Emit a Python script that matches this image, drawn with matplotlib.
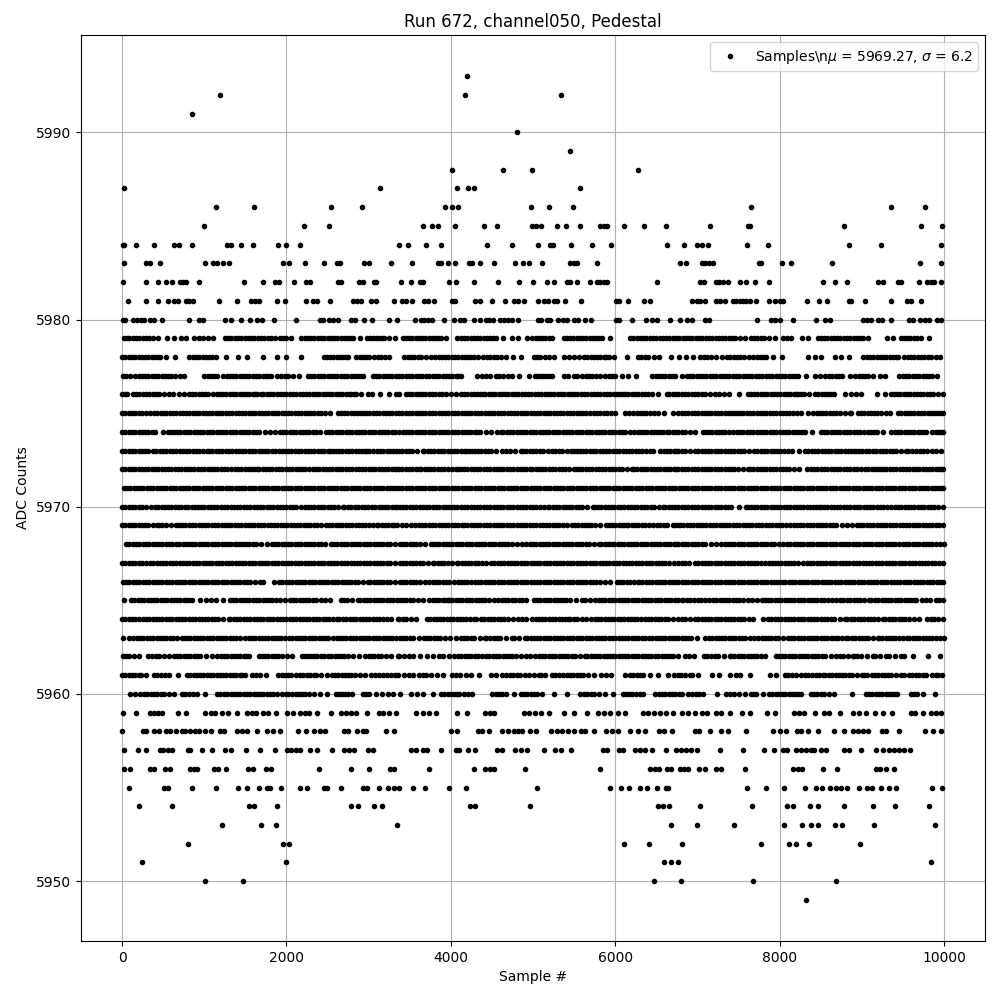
import matplotlib
matplotlib.use("Agg")
import matplotlib.pyplot as plt

level_5993 = [4200]
level_5992 = [1196, 4177, 5341]
level_5991 = [845]
level_5990 = [4808]
level_5989 = [5450]
level_5988 = [4008, 4638, 4990, 6275]
level_5987 = [25, 3135, 4080, 4214, 4286, 5572]
level_5986 = [1147, 1608, 2541, 2917, 3923, 4020, 4093, 4977, 5196, 5487, 7656, 9353, 9765]
level_5985 = [1002, 2214, 2517, 3656, 3765, 3838, 4048, 4408, 4565, 4990, 5030, 5100, 5293, 5402, 5572, 5818, 5859, 5899, 6105, 6347, 6614, 7147, 7616, 7636, 8784, 9717, 9971]
level_5984 = [10, 28, 166, 384, 634, 687, 856, 1280, 1321, 1450, 1596, 1899, 2000, 2165, 3365, 3474, 3693, 3886, 4444, 4747, 5063, 5212, 5240, 5463, 5717, 5947, 6626, 6832, 6990, 7050, 7127, 7608, 7862, 8844, 9232, 9959]
level_5983 = [20, 287, 335, 457, 1014, 1111, 1151, 1232, 1305, 1959, 2032, 2226, 2456, 2614, 2654, 2941, 3002, 3268, 3523, 3838, 3886, 3971, 4048, 4222, 4254, 4359, 4529, 4783, 4880, 4953, 5111, 5455, 5495, 5535, 5778, 6784, 6856, 7050, 7090, 7135, 7192, 7749, 7778, 8032, 8141, 8638, 9705, 9959]
level_5982 = [8, 287, 432, 529, 606, 699, 739, 780, 941, 1487, 1717, 1858, 1911, 2093, 2242, 2283, 2626, 2666, 2881, 2929, 3070, 3090, 3390, 3511, 3628, 3664, 3983, 4068, 4278, 4577, 4832, 5002, 5172, 5257, 5414, 5455, 5539, 5693, 5778, 5818, 5859, 5899, 6505, 7034, 7079, 7220, 7264, 7313, 7366, 7523, 7588, 7697, 7875, 8529, 8674, 8820, 9192, 9256, 9442, 9474, 9692, 9789, 9838, 9878, 9959]
level_5981 = [69, 287, 432, 553, 626, 675, 772, 812, 861, 1184, 1402, 1572, 1616, 1668, 1887, 1984, 2238, 2323, 2371, 2529, 2812, 2860, 2909, 3026, 3090, 3305, 3402, 3454, 3523, 3668, 3725, 3798, 4012, 4048, 4299, 4359, 4505, 4662, 4771, 4820, 4888, 5063, 5135, 5184, 5253, 5293, 5390, 5584, 6008, 6048, 6154, 6356, 6424, 6929, 6990, 7030, 7087, 7220, 7272, 7341, 7434, 7475, 7515, 7556, 7596, 7636, 7717, 7875, 7947, 8000, 8040, 8335, 8481, 8578, 8848, 8868, 9038, 9353, 9555, 9595, 9717]
level_5980 = [5, 30, 133, 182, 234, 271, 335, 392, 481, 812, 941, 982, 1256, 1321, 1450, 1559, 1644, 1705, 1850, 2117, 2412, 2444, 2517, 2565, 2626, 2788, 2828, 2941, 3038, 3244, 3341, 3559, 3632, 3676, 3717, 3769, 3911, 4044, 4113, 4161, 4286, 4359, 4432, 4468, 4517, 4602, 4642, 4699, 4747, 4812, 5062, 5099, 5172, 5204, 5305, 5366, 5414, 5495, 5547, 5628, 5709, 6008, 6048, 6202, 6380, 6444, 6505, 6663, 6784, 6869, 6929, 7091, 7143, 7729, 7890, 7947, 8000, 8165, 8444, 8553, 8618, 9010, 9062, 9111, 9192, 9248, 9361, 9579, 9628, 9705, 9765, 9818, 9911, 9959]
level_5979 = [20, 90, 170, 250, 330, 432, 545, 626, 715, 780, 869, 941, 990, 1050, 1103, 1252, 1330, 1410, 1490, 1570, 1650, 1730, 1810, 1919, 1959, 2000, 2056, 2182, 2260, 2340, 2420, 2500, 2580, 2660, 2740, 2808, 2893, 2977, 3050, 3130, 3192, 3252, 3317, 3414, 3490, 3570, 3650, 3730, 3810, 3878, 3947, 4080, 4160, 4240, 4320, 4400, 4480, 4545, 4634, 4747, 4820, 4921, 4990, 5070, 5150, 5232, 5374, 5450, 5530, 5610, 5690, 5770, 5838, 5931, 6182, 6260, 6340, 6420, 6500, 6580, 6660, 6740, 6820, 6900, 6980, 7060, 7140, 7220, 7300, 7380, 7460, 7576, 7656, 7730, 7810, 7939, 8040, 8141, 8271, 8343, 8464, 8540, 8620, 8700, 8780, 8860, 8940, 9010, 9070, 9305, 9377, 9474, 9550, 9630, 9717, 9814]
level_5978 = [0, 80, 160, 240, 320, 400, 465, 537, 638, 820, 900, 980, 1060, 1143, 1265, 1414, 1523, 1709, 1879, 1992, 2174, 2452, 2530, 2610, 2690, 2747, 2848, 2930, 3002, 3070, 3150, 3252, 3434, 3515, 3556, 3640, 3758, 3810, 3890, 3970, 4050, 4130, 4210, 4283, 4335, 4396, 4480, 4560, 4666, 4760, 4856, 5010, 5090, 5192, 5256, 5382, 5503, 5563, 5616, 5700, 5780, 5860, 5919, 5984, 6141, 6283, 6315, 6400, 6533, 6674, 6772, 6861, 6942, 7034, 7120, 7228, 7297, 7358, 7440, 7520, 7632, 7681, 7760, 7830, 7923, 8032, 8347, 8436, 8509, 8671, 8751, 8844, 9014, 9100, 9180, 9260, 9340, 9418, 9446, 9519, 9600, 9680, 9760, 9840, 9955]
level_5977 = [12, 101, 162, 240, 320, 400, 480, 560, 640, 755, 998, 1080, 1160, 1224, 1273, 1350, 1430, 1510, 1590, 1670, 1750, 1806, 1879, 1980, 2020, 2149, 2262, 2340, 2420, 2500, 2580, 2660, 2740, 2820, 2889, 2929, 3050, 3130, 3210, 3290, 3373, 3450, 3530, 3610, 3697, 3737, 3820, 3900, 3980, 4060, 4121, 4323, 4384, 4473, 4545, 4630, 4747, 4828, 4949, 5022, 5050, 5120, 5192, 5232, 5374, 5495, 5535, 5596, 5680, 5760, 5870, 5919, 6000, 6081, 6161, 6250, 6452, 6493, 6570, 6650, 6727, 6812, 6873, 6950, 7030, 7110, 7190, 7270, 7350, 7430, 7510, 7590, 7670, 7750, 7830, 7910, 7990, 8070, 8150, 8226, 8315, 8436, 8549, 8598, 8680, 8760, 8860, 8921, 9000, 9075, 9135, 9216, 9277, 9458, 9540, 9620, 9700, 9780, 9850, 9915]
level_5976 = [0, 60, 133, 210, 290, 370, 450, 565, 618, 755, 808, 890, 970, 1050, 1111, 1190, 1270, 1350, 1430, 1510, 1590, 1636, 1685, 1760, 1840, 1920, 2000, 2080, 2160, 2240, 2320, 2400, 2480, 2560, 2640, 2727, 2790, 2848, 2909, 2990, 3042, 3135, 3252, 3333, 3374, 3455, 3495, 3570, 3650, 3730, 3810, 3890, 4000, 4061, 4121, 4200, 4280, 4360, 4416, 4465, 4540, 4620, 4700, 4780, 4860, 4940, 5020, 5100, 5180, 5260, 5340, 5420, 5500, 5580, 5660, 5740, 5820, 5900, 5980, 6060, 6121, 6161, 6240, 6320, 6396, 6444, 6517, 6626, 6700, 6767, 6850, 6930, 7010, 7090, 7216, 7257, 7386, 7503, 7612, 7690, 7770, 7850, 7930, 8010, 8090, 8170, 8218, 8259, 8356, 8428, 8510, 8590, 8663, 8800, 8873, 8986, 9180, 9277, 9358, 9390, 9470, 9550, 9630, 9710, 9790, 9870, 9984]
level_5975 = [0, 80, 160, 240, 343, 384, 477, 505, 580, 660, 740, 820, 900, 980, 1060, 1140, 1220, 1300, 1380, 1460, 1540, 1620, 1700, 1780, 1860, 1940, 2020, 2100, 2180, 2260, 2340, 2420, 2525, 2626, 2700, 2780, 2860, 2929, 2969, 3050, 3130, 3210, 3290, 3373, 3450, 3530, 3610, 3690, 3770, 3850, 3930, 4010, 4090, 4170, 4250, 4330, 4410, 4490, 4570, 4650, 4730, 4810, 4890, 4970, 5050, 5130, 5210, 5290, 5370, 5450, 5530, 5610, 5697, 5737, 5820, 5900, 6000, 6113, 6222, 6262, 6340, 6420, 6525, 6598, 6707, 6767, 6850, 6930, 7010, 7090, 7170, 7250, 7330, 7410, 7479, 7519, 7600, 7680, 7760, 7840, 7920, 8000, 8080, 8160, 8266, 8347, 8408, 8490, 8570, 8650, 8730, 8853, 8873, 8954, 8986, 9070, 9150, 9230, 9349, 9438, 9520, 9600, 9680, 9760, 9840, 9920, 9984]
level_5974 = [0, 80, 160, 240, 320, 404, 493, 553, 630, 710, 790, 870, 950, 1030, 1110, 1190, 1270, 1350, 1430, 1510, 1590, 1668, 1737, 1798, 1858, 1919, 2000, 2080, 2160, 2240, 2320, 2412, 2485, 2560, 2640, 2720, 2800, 2880, 2960, 3040, 3120, 3200, 3280, 3373, 3414, 3490, 3570, 3650, 3730, 3810, 3890, 3970, 4050, 4130, 4210, 4290, 4351, 4424, 4566, 4606, 4680, 4760, 4840, 4920, 5000, 5080, 5160, 5240, 5320, 5400, 5480, 5560, 5640, 5720, 5800, 5880, 5960, 6040, 6120, 6234, 6274, 6350, 6430, 6510, 6586, 6626, 6700, 6767, 6850, 6974, 7063, 7140, 7220, 7300, 7380, 7479, 7519, 7600, 7680, 7760, 7840, 7920, 8000, 8080, 8160, 8240, 8307, 8396, 8501, 8580, 8660, 8740, 8820, 8900, 8980, 9075, 9107, 9188, 9256, 9358, 9440, 9520, 9600, 9680, 9741, 9782, 9860, 9940, 9984]
level_5973 = [0, 80, 160, 240, 320, 416, 465, 540, 620, 700, 780, 860, 940, 1030, 1063, 1140, 1220, 1300, 1380, 1460, 1540, 1620, 1700, 1780, 1860, 1951, 1980, 2060, 2140, 2220, 2300, 2380, 2460, 2533, 2565, 2640, 2720, 2800, 2880, 2960, 3010, 3058, 3140, 3220, 3300, 3373, 3450, 3530, 3656, 3677, 3760, 3840, 3920, 4000, 4080, 4160, 4222, 4254, 4330, 4410, 4490, 4618, 4667, 4715, 4848, 4877, 4960, 5040, 5120, 5232, 5272, 5350, 5467, 5495, 5570, 5650, 5730, 5810, 5890, 5970, 6050, 6130, 6210, 6290, 6370, 6465, 6545, 6630, 6710, 6767, 6850, 6974, 7006, 7090, 7170, 7250, 7330, 7410, 7490, 7570, 7693, 7725, 7774, 7850, 7930, 8010, 8097, 8149, 8234, 8307, 8390, 8470, 8550, 8630, 8710, 8790, 8870, 8933, 8962, 9050, 9135, 9176, 9260, 9340, 9420, 9539, 9560, 9660, 9713, 9790, 9903, 9963]
level_5972 = [0, 80, 160, 240, 320, 400, 480, 560, 640, 720, 800, 880, 960, 1040, 1120, 1200, 1280, 1374, 1414, 1490, 1570, 1636, 1669, 1750, 1830, 1910, 1990, 2070, 2150, 2230, 2323, 2363, 2440, 2520, 2600, 2680, 2760, 2840, 2920, 3000, 3080, 3160, 3240, 3320, 3373, 3450, 3530, 3608, 3636, 3720, 3800, 3880, 3960, 4061, 4081, 4160, 4240, 4320, 4400, 4480, 4560, 4640, 4720, 4800, 4880, 4962, 4990, 5070, 5150, 5230, 5310, 5390, 5495, 5523, 5600, 5680, 5760, 5840, 5920, 6000, 6080, 6202, 6234, 6310, 6390, 6470, 6550, 6630, 6710, 6767, 6850, 6930, 7010, 7090, 7170, 7250, 7330, 7410, 7490, 7612, 7640, 7720, 7800, 7880, 7960, 8040, 8120, 8234, 8339, 8420, 8500, 8580, 8660, 8740, 8820, 8900, 8994, 9034, 9120, 9200, 9269, 9297, 9380, 9460, 9540, 9620, 9700, 9780, 9860, 9940, 9984]
level_5971 = [20, 100, 180, 260, 340, 420, 500, 580, 660, 740, 820, 900, 980, 1060, 1140, 1220, 1300, 1380, 1460, 1540, 1620, 1700, 1780, 1860, 1940, 2020, 2100, 2180, 2260, 2340, 2420, 2500, 2580, 2660, 2740, 2820, 2900, 2980, 3060, 3140, 3220, 3300, 3373, 3450, 3530, 3610, 3690, 3770, 3850, 3930, 4010, 4090, 4170, 4250, 4330, 4410, 4490, 4570, 4650, 4730, 4810, 4890, 4970, 5050, 5130, 5210, 5290, 5370, 5450, 5530, 5610, 5690, 5770, 5850, 5930, 6010, 6090, 6170, 6250, 6330, 6410, 6490, 6570, 6650, 6730, 6810, 6890, 6970, 7050, 7130, 7210, 7290, 7370, 7450, 7530, 7610, 7690, 7770, 7850, 7930, 8010, 8090, 8170, 8250, 8330, 8410, 8490, 8570, 8650, 8730, 8810, 8890, 8970, 9050, 9130, 9210, 9290, 9370, 9450, 9530, 9610, 9690, 9770, 9850, 9930, 9984]
level_5970 = [0, 80, 160, 240, 352, 405, 480, 560, 640, 720, 800, 891, 919, 1000, 1080, 1160, 1240, 1320, 1400, 1480, 1560, 1640, 1720, 1800, 1880, 1960, 2040, 2120, 2228, 2256, 2340, 2420, 2500, 2580, 2685, 2705, 2790, 2870, 2957, 2997, 3080, 3160, 3240, 3320, 3382, 3460, 3540, 3620, 3700, 3780, 3860, 3940, 4012, 4040, 4120, 4200, 4280, 4360, 4440, 4520, 4600, 4680, 4760, 4840, 4920, 5000, 5080, 5180, 5200, 5280, 5360, 5440, 5520, 5600, 5725, 5750, 5830, 5910, 5990, 6070, 6150, 6230, 6310, 6390, 6470, 6586, 6606, 6690, 6767, 6850, 6930, 7010, 7090, 7170, 7250, 7330, 7410, 7591, 7612, 7690, 7770, 7850, 7930, 8010, 8090, 8170, 8250, 8330, 8410, 8477, 8501, 8580, 8660, 8740, 8820, 8900, 8980, 9067, 9095, 9180, 9260, 9358, 9398, 9480, 9560, 9640, 9720, 9800, 9880, 9984]
level_5969 = [0, 80, 160, 240, 320, 425, 445, 530, 656, 689, 770, 850, 930, 1010, 1090, 1170, 1250, 1330, 1410, 1490, 1570, 1650, 1730, 1810, 1890, 1970, 2050, 2130, 2210, 2290, 2370, 2482, 2523, 2600, 2680, 2760, 2840, 2920, 3000, 3098, 3118, 3200, 3280, 3341, 3406, 3515, 3568, 3650, 3730, 3810, 3890, 3970, 4050, 4130, 4202, 4242, 4320, 4400, 4480, 4560, 4640, 4720, 4800, 4880, 4960, 5040, 5120, 5200, 5280, 5360, 5475, 5507, 5590, 5670, 5750, 5887, 5919, 6000, 6080, 6141, 6161, 6240, 6320, 6412, 6465, 6550, 6626, 6707, 6767, 6792, 6870, 6950, 7030, 7110, 7190, 7270, 7350, 7430, 7510, 7590, 7670, 7750, 7830, 7910, 7990, 8072, 8125, 8210, 8290, 8370, 8450, 8530, 8610, 8690, 8820, 8881, 8942, 9020, 9100, 9180, 9260, 9340, 9420, 9500, 9580, 9660, 9740, 9820, 9900, 9984]
level_5968 = [52, 130, 210, 290, 370, 450, 530, 610, 690, 781, 810, 890, 970, 1050, 1130, 1210, 1290, 1370, 1430, 1470, 1550, 1630, 1762, 1823, 1900, 1980, 2060, 2140, 2220, 2300, 2380, 2470, 2539, 2620, 2700, 2780, 2860, 2940, 3020, 3100, 3180, 3260, 3382, 3460, 3540, 3620, 3758, 3778, 3860, 3940, 4020, 4100, 4180, 4260, 4340, 4420, 4500, 4580, 4660, 4740, 4869, 4909, 4958, 5040, 5120, 5200, 5280, 5360, 5440, 5520, 5600, 5680, 5798, 5830, 5910, 5990, 6070, 6150, 6230, 6310, 6390, 6470, 6550, 6630, 6710, 6767, 6850, 6930, 7010, 7090, 7224, 7289, 7370, 7450, 7530, 7610, 7690, 7770, 7850, 7930, 8044, 8085, 8170, 8250, 8330, 8410, 8490, 8570, 8650, 8730, 8810, 8890, 8970, 9050, 9130, 9210, 9290, 9370, 9458, 9499, 9580, 9660, 9740, 9820, 9900, 9999]
level_5967 = [0, 80, 160, 240, 336, 376, 460, 540, 620, 700, 780, 860, 940, 1020, 1100, 1180, 1260, 1340, 1420, 1500, 1580, 1660, 1740, 1820, 1900, 1980, 2060, 2140, 2220, 2300, 2380, 2460, 2540, 2620, 2700, 2780, 2860, 2940, 3020, 3100, 3180, 3260, 3382, 3460, 3540, 3624, 3657, 3778, 3798, 3880, 3960, 4069, 4093, 4170, 4250, 4330, 4432, 4489, 4570, 4650, 4730, 4810, 4890, 4970, 5050, 5130, 5210, 5290, 5370, 5450, 5530, 5610, 5690, 5770, 5850, 5930, 6010, 6090, 6170, 6250, 6330, 6410, 6490, 6570, 6650, 6767, 6853, 6893, 6966, 7050, 7130, 7210, 7290, 7370, 7450, 7530, 7610, 7690, 7770, 7871, 7903, 7980, 8060, 8140, 8220, 8339, 8368, 8450, 8530, 8610, 8690, 8770, 8850, 8930, 9010, 9090, 9170, 9250, 9330, 9410, 9490, 9570, 9650, 9730, 9810, 9890, 9984]
level_5966 = [10, 90, 170, 250, 330, 410, 490, 570, 650, 730, 810, 890, 970, 1050, 1130, 1215, 1235, 1320, 1400, 1480, 1560, 1680, 1713, 1843, 1904, 1990, 2070, 2150, 2230, 2310, 2390, 2470, 2550, 2630, 2710, 2790, 2870, 2997, 3017, 3100, 3180, 3260, 3382, 3460, 3540, 3620, 3737, 3778, 3818, 3900, 3980, 4093, 4121, 4200, 4295, 4327, 4410, 4490, 4570, 4650, 4730, 4810, 4890, 4970, 5050, 5130, 5210, 5290, 5370, 5450, 5530, 5610, 5690, 5770, 5870, 5939, 6020, 6100, 6180, 6275, 6291, 6370, 6450, 6530, 6610, 6690, 6767, 6850, 6930, 7010, 7090, 7170, 7250, 7330, 7410, 7490, 7570, 7650, 7730, 7810, 7890, 7970, 8044, 8065, 8150, 8230, 8310, 8390, 8470, 8550, 8630, 8710, 8790, 8870, 8950, 9030, 9110, 9190, 9270, 9350, 9430, 9510, 9590, 9670, 9750, 9830, 9910, 9984]
level_5965 = [20, 109, 190, 270, 350, 430, 510, 590, 670, 750, 810, 851, 944, 1025, 1146, 1223, 1308, 1390, 1470, 1550, 1630, 1710, 1790, 1871, 1924, 1985, 2037, 2120, 2200, 2280, 2360, 2470, 2531, 2665, 2742, 2867, 2896, 2980, 3060, 3140, 3220, 3300, 3382, 3460, 3540, 3665, 3738, 3820, 3900, 3960, 3980, 4060, 4140, 4220, 4300, 4380, 4460, 4578, 4618, 4700, 4780, 4869, 4917, 5010, 5090, 5170, 5250, 5330, 5406, 5454, 5596, 5628, 5758, 5798, 5880, 5960, 6040, 6120, 6200, 6280, 6360, 6440, 6520, 6600, 6680, 6767, 6821, 6873, 6960, 7046, 7095, 7184, 7224, 7310, 7390, 7470, 7550, 7669, 7721, 7782, 7860, 7940, 8020, 8100, 8180, 8260, 8340, 8420, 8500, 8590, 8638, 8690, 8771, 8824, 8900, 8980, 9083, 9115, 9200, 9280, 9360, 9440, 9520, 9600, 9660, 9733, 9834, 9903, 9984]
level_5964 = [0, 80, 162, 203, 290, 370, 450, 530, 610, 690, 770, 850, 930, 1010, 1090, 1170, 1296, 1316, 1400, 1480, 1560, 1640, 1720, 1800, 1880, 1960, 2040, 2120, 2200, 2280, 2360, 2440, 2520, 2612, 2645, 2730, 2810, 2890, 2970, 3050, 3130, 3220, 3272, 3362, 3374, 3460, 3576, 3705, 3790, 3870, 3950, 4030, 4110, 4190, 4283, 4311, 4364, 4450, 4530, 4610, 4690, 4820, 4869, 4909, 4990, 5030, 5110, 5190, 5270, 5350, 5426, 5454, 5540, 5644, 5709, 5790, 5870, 5950, 6030, 6110, 6190, 6270, 6364, 6396, 6480, 6560, 6640, 6767, 6850, 6974, 7006, 7090, 7170, 7250, 7330, 7410, 7490, 7570, 7681, 7802, 7854, 7940, 8020, 8100, 8180, 8260, 8340, 8420, 8500, 8580, 8660, 8792, 8824, 8910, 8990, 9070, 9150, 9256, 9285, 9370, 9450, 9530, 9632, 9697, 9794, 9880, 9984]
level_5963 = [12, 81, 182, 215, 300, 380, 460, 540, 620, 729, 749, 830, 910, 990, 1070, 1150, 1230, 1310, 1390, 1499, 1539, 1620, 1700, 1780, 1860, 1932, 1985, 2070, 2150, 2230, 2310, 2390, 2470, 2511, 2572, 2650, 2730, 2810, 2890, 2970, 3050, 3130, 3210, 3290, 3382, 3460, 3540, 3677, 3705, 3790, 3870, 3988, 4061, 4121, 4200, 4280, 4416, 4432, 4520, 4600, 4739, 4768, 4901, 4929, 5010, 5090, 5170, 5250, 5330, 5410, 5490, 5568, 5596, 5680, 5760, 5840, 5920, 6000, 6080, 6160, 6240, 6323, 6364, 6450, 6530, 6610, 6690, 6767, 6850, 6926, 6994, 7095, 7180, 7260, 7340, 7420, 7500, 7580, 7693, 7733, 7820, 7900, 7980, 8105, 8137, 8220, 8300, 8380, 8460, 8540, 8620, 8691, 8711, 8812, 8832, 8920, 9000, 9080, 9196, 9208, 9290, 9370, 9450, 9551, 9580, 9660, 9740, 9820, 9900, 9999]
level_5962 = [10, 90, 202, 312, 365, 450, 567, 628, 710, 790, 870, 950, 1093, 1154, 1240, 1320, 1400, 1480, 1539, 1660, 1740, 1820, 1900, 2005, 2065, 2187, 2260, 2337, 2377, 2460, 2540, 2632, 2660, 2750, 2880, 2957, 3038, 3066, 3150, 3268, 3362, 3374, 3495, 3535, 3705, 3778, 3859, 3899, 3972, 4040, 4081, 4170, 4250, 4330, 4432, 4465, 4550, 4630, 4710, 4790, 4917, 4966, 5022, 5110, 5190, 5270, 5350, 5430, 5510, 5636, 5656, 5740, 5820, 5900, 5968, 6000, 6080, 6160, 6240, 6320, 6400, 6480, 6566, 6606, 6679, 6707, 6767, 6853, 6893, 6954, 7075, 7168, 7250, 7398, 7410, 7490, 7570, 7650, 7730, 7822, 7952, 8030, 8113, 8145, 8230, 8310, 8390, 8470, 8549, 8630, 8690, 8770, 8889, 8901, 8990, 9135, 9155, 9297, 9329, 9471, 9519, 9620, 9802, 9956]
level_5961 = [0, 80, 160, 234, 287, 384, 470, 570, 675, 788, 870, 950, 1030, 1110, 1190, 1270, 1350, 1430, 1495, 1576, 1677, 1757, 1899, 1980, 2060, 2161, 2202, 2290, 2363, 2424, 2553, 2590, 2670, 2750, 2830, 2961, 3030, 3083, 3220, 3272, 3360, 3495, 3535, 3616, 3697, 3826, 3899, 4012, 4109, 4181, 4246, 4343, 4484, 4545, 4618, 4674, 4760, 4840, 4950, 5071, 5143, 5230, 5313, 5366, 5450, 5530, 5610, 5737, 5830, 5952, 6121, 6182, 6260, 6343, 6424, 6525, 6638, 6715, 6800, 6909, 6937, 7002, 7172, 7260, 7394, 7515, 7644, 7879, 7960, 8060, 8150, 8303, 8351, 8440, 8525, 8553, 8640, 8720, 8800, 8880, 8998, 9030, 9062, 9119, 9200, 9280, 9360, 9474, 9515, 9575, 9616, 9700, 9777, 9858, 9930, 9979]
level_5960 = [100, 222, 262, 350, 430, 510, 634, 727, 810, 917, 1014, 1151, 1240, 1320, 1400, 1480, 1560, 1640, 1720, 1800, 1880, 2000, 2020, 2110, 2190, 2270, 2404, 2493, 2598, 2680, 2747, 2800, 2929, 3010, 3090, 3232, 3381, 3515, 3583, 3664, 3777, 3878, 3960, 4040, 4101, 4161, 4254, 4505, 4580, 4666, 4767, 4848, 4930, 5010, 5103, 5257, 5414, 5576, 5660, 5740, 5871, 5968, 6089, 6170, 6250, 6343, 6485, 6570, 6650, 6730, 6816, 6889, 6980, 7071, 7240, 7353, 7440, 7576, 7656, 7717, 7798, 7866, 7950, 8030, 8110, 8190, 8262, 8376, 8460, 8540, 8667, 8877, 9050, 9130, 9210, 9290, 9370, 9434, 9596, 9668, 9749, 9886]
level_5959 = [8, 166, 335, 384, 432, 485, 675, 772, 1014, 1079, 1131, 1212, 1293, 1402, 1515, 1576, 1628, 1717, 1778, 1871, 2008, 2081, 2161, 2222, 2275, 2371, 2545, 2666, 2727, 2788, 2848, 2978, 3123, 3180, 3252, 3333, 3575, 3664, 3737, 3818, 4080, 4202, 4416, 4472, 4525, 4888, 4949, 5022, 5095, 5200, 5378, 5499, 5657, 5786, 5859, 5931, 6032, 6121, 6343, 6404, 6477, 6545, 6618, 6707, 6808, 6889, 6970, 7050, 7111, 7220, 7292, 7402, 7547, 7636, 7842, 7939, 8170, 8230, 8299, 8432, 8545, 8606, 8735, 8889, 8970, 9050, 9163, 9252, 9373, 9595, 9644, 9745, 9838, 9898, 9959]
level_5958 = [0, 250, 291, 384, 448, 537, 586, 654, 731, 768, 832, 889, 941, 1010, 1079, 1192, 1240, 1394, 1454, 1523, 1644, 1766, 1838, 1923, 2141, 2242, 2335, 2404, 2464, 2699, 2747, 2860, 2929, 2969, 3212, 3313, 4000, 4080, 4335, 4383, 4460, 4626, 4699, 4767, 4820, 4868, 4969, 5038, 5224, 5293, 5354, 5426, 5495, 5584, 5628, 5741, 5887, 5960, 6032, 6174, 6275, 6364, 6533, 6598, 6687, 6970, 7018, 7147, 7285, 7374, 7596, 7923, 8000, 8081, 8214, 8262, 8343, 8468, 8667, 8780, 8893, 8950, 9010, 9078, 9244, 9293, 9450, 9765, 9870, 9959]
level_5957 = [20, 190, 287, 457, 497, 553, 606, 796, 828, 970, 1099, 1256, 1321, 1503, 1681, 1862, 2008, 2060, 2121, 2169, 2287, 2371, 2549, 2699, 2759, 2820, 2990, 3050, 3511, 3575, 3656, 3705, 3886, 4060, 4101, 4210, 4294, 4561, 4626, 4783, 4852, 4929, 5135, 5273, 5345, 5463, 5846, 5903, 6048, 6097, 6238, 6303, 6360, 6448, 6614, 6743, 6800, 6856, 6921, 6998, 7269, 7559, 7814, 7935, 8036, 8093, 8202, 8262, 8323, 8384, 8424, 8505, 8570, 8788, 8848, 8990, 9171, 9252, 9333, 9394, 9454, 9515, 9587]
level_5956 = [20, 97, 335, 388, 525, 578, 832, 877, 917, 1119, 1163, 1269, 1535, 1588, 1753, 1814, 2396, 2784, 3002, 3264, 3313, 3729, 4278, 4420, 4472, 4529, 4905, 5814, 6424, 6485, 6537, 6626, 6675, 6784, 6832, 6889, 7014, 7087, 7220, 7292, 7584, 8165, 8226, 8278, 8529, 8699, 9171, 9220, 9293, 9390]
level_5955 = [81, 509, 557, 856, 1147, 1414, 1523, 1668, 1766, 1800, 1935, 2165, 2250, 2456, 2489, 2662, 2937, 2978, 3123, 3232, 3313, 3365, 3535, 3680, 3983, 4189, 5050, 5935, 6069, 6166, 6299, 6384, 6505, 6614, 6646, 7608, 7830, 8056, 8307, 8444, 8517, 8614, 8687, 8747, 8820, 8965, 9062, 9123, 9232, 9333, 9414, 9850, 9971]
level_5954 = [202, 602, 1547, 1608, 1887, 2784, 2868, 3062, 3159, 4230, 4290, 4965, 6517, 6578, 6650, 7026, 7669, 8093, 8165, 8372, 8468, 8784, 9135, 9402, 9814]
level_5953 = [1220, 1693, 1875, 3341, 6675, 6990, 7450, 8056, 8274, 8384, 8468, 8674, 8759, 9147, 9886]
level_5952 = [796, 1959, 2032, 6105, 6408, 6808, 7778, 8117, 8202, 8360, 8977]
level_5951 = [238, 1996, 6590, 6679, 6760, 9838]
level_5950 = [1014, 1475, 6469, 6796, 7681, 8687]
level_5949 = [8323]

more_5979 = [55, 130, 210, 290, 380, 1290, 1370, 1450, 1530, 1610, 1690, 1770, 1860, 2220, 2300, 2380, 2460, 2540, 2620, 2700, 2775, 3020, 3090, 3160, 3450, 3530, 3610, 3690, 3770, 3845, 4120, 4200, 4280, 4360, 4440, 4510, 5030, 5110, 5190, 5410, 5490, 5570, 5650, 5730, 5805, 6220, 6300, 6380, 6460, 6540, 6620, 6700, 6780, 6860, 6940, 7020, 7100, 7180, 7260, 7340, 7420, 7520, 7690, 7770, 7875, 8090, 8500, 8580, 8660, 8740, 8820, 8900, 8975, 9510, 9590, 9670]
more_5978 = [40, 120, 200, 280, 360, 440, 860, 940, 1020, 1100, 2490, 2570, 2650, 2720, 2890, 2965, 3110, 3200, 3475, 3600, 3700, 3850, 3930, 4010, 4090, 4170, 4250, 4440, 4520, 4610, 5050, 5140, 5440, 5660, 5740, 5820, 5890, 6360, 6470, 7080, 7170, 7400, 7480, 7570, 7720, 7800, 9060, 9140, 9220, 9300, 9380, 9560, 9640, 9720, 9800, 9900]
more_5977 = [50, 200, 280, 360, 440, 520, 600, 700, 1040, 1120, 1310, 1390, 1470, 1550, 1630, 1710, 1780, 1930, 2080, 2300, 2380, 2460, 2540, 2620, 2700, 2780, 2860, 3090, 3170, 3250, 3330, 3410, 3490, 3570, 3650, 3780, 3860, 3940, 4020, 4090, 4430, 4590, 4690, 5080, 5155, 5430, 5640, 5720, 5810, 5960, 6530, 6610, 6690, 6910, 6990, 7070, 7150, 7230, 7310, 7390, 7470, 7550, 7630, 7710, 7790, 7870, 7950, 8030, 8110, 8190, 8490, 8640, 8720, 8960, 9040, 9500, 9580, 9660, 9740, 9815]
more_5976 = [30, 170, 250, 330, 410, 510, 690, 850, 930, 1010, 1150, 1230, 1310, 1390, 1470, 1550, 1615, 1720, 1800, 1880, 1960, 2040, 2120, 2200, 2280, 2360, 2440, 2520, 2600, 2680, 2760, 2820, 3530, 3610, 3690, 3770, 3850, 3945, 4160, 4240, 4320, 4390, 4500, 4580, 4660, 4740, 4820, 4900, 4980, 5060, 5140, 5220, 5300, 5380, 5460, 5540, 5620, 5700, 5780, 5860, 5940, 6020, 6090, 6200, 6280, 6360, 6660, 6730, 6810, 6890, 6970, 7050, 7150, 7320, 7650, 7730, 7810, 7890, 7970, 8050, 8130, 8195, 8300, 8470, 8550, 8630, 8930, 9430, 9510, 9590, 9670, 9750, 9830, 9930]
more_5975 = [40, 120, 200, 290, 430, 540, 620, 700, 780, 860, 940, 1020, 1100, 1180, 1260, 1340, 1420, 1500, 1580, 1660, 1740, 1820, 1900, 1980, 2060, 2140, 2220, 2300, 2380, 2470, 2660, 2740, 2820, 2890, 3010, 3090, 3170, 3250, 3335, 3410, 3490, 3570, 3650, 3730, 3810, 3890, 3970, 4050, 4130, 4210, 4290, 4370, 4450, 4530, 4610, 4690, 4770, 4850, 4930, 5010, 5090, 5170, 5250, 5330, 5410, 5490, 5570, 5650, 5780, 5860, 5950, 6170, 6300, 6380, 6470, 6810, 6890, 6970, 7050, 7130, 7210, 7290, 7370, 7445, 7560, 7640, 7720, 7800, 7880, 7960, 8040, 8120, 8210, 8450, 8530, 8610, 8690, 8790, 9030, 9110, 9190, 9290, 9480, 9560, 9640, 9720, 9800, 9880, 9950]
more_5974 = [40, 120, 200, 280, 360, 590, 670, 750, 830, 910, 990, 1070, 1150, 1230, 1310, 1390, 1470, 1550, 1630, 1960, 2040, 2120, 2200, 2280, 2365, 2520, 2600, 2680, 2760, 2840, 2920, 3000, 3080, 3160, 3240, 3325, 3450, 3530, 3610, 3690, 3770, 3850, 3930, 4010, 4090, 4170, 4250, 4320, 4490, 4640, 4720, 4800, 4880, 4960, 5040, 5120, 5200, 5280, 5360, 5440, 5520, 5600, 5680, 5760, 5840, 5920, 6000, 6080, 6175, 6310, 6390, 6470, 6550, 6660, 6730, 6810, 6910, 7100, 7180, 7260, 7340, 7430, 7560, 7640, 7720, 7800, 7880, 7960, 8040, 8120, 8200, 8270, 8540, 8620, 8700, 8780, 8860, 8940, 9030, 9150, 9400, 9480, 9560, 9640, 9710, 9900, 9960]
more_5973 = [40, 120, 200, 280, 370, 500, 580, 660, 740, 820, 900, 985, 1100, 1180, 1260, 1340, 1420, 1500, 1580, 1660, 1740, 1820, 1905, 2020, 2100, 2180, 2260, 2340, 2420, 2500, 2600, 2680, 2760, 2840, 2920, 2985, 3100, 3180, 3260, 3335, 3410, 3490, 3590, 3720, 3800, 3880, 3960, 4040, 4120, 4190, 4290, 4370, 4450, 4550, 4780, 4920, 5000, 5080, 5180, 5310, 5410, 5530, 5610, 5690, 5770, 5850, 5930, 6010, 6090, 6170, 6250, 6330, 6420, 6590, 6670, 6740, 6810, 6910, 7050, 7130, 7210, 7290, 7370, 7450, 7530, 7630, 7810, 7890, 7970, 8050, 8350, 8430, 8510, 8590, 8670, 8750, 8830, 8900, 9000, 9090, 9220, 9300, 9380, 9480, 9610, 9750, 9850]
more_5972 = [40, 120, 200, 280, 360, 440, 520, 600, 680, 760, 840, 920, 1000, 1080, 1160, 1240, 1330, 1450, 1530, 1600, 1710, 1790, 1870, 1950, 2030, 2110, 2190, 2275, 2400, 2480, 2560, 2640, 2720, 2800, 2880, 2960, 3040, 3120, 3200, 3280, 3345, 3410, 3490, 3570, 3680, 3760, 3840, 3920, 4010, 4120, 4200, 4280, 4360, 4440, 4520, 4600, 4680, 4760, 4840, 4920, 5030, 5110, 5190, 5270, 5350, 5440, 5560, 5640, 5720, 5800, 5880, 5960, 6040, 6140, 6270, 6350, 6430, 6510, 6590, 6670, 6740, 6810, 6890, 6970, 7050, 7130, 7210, 7290, 7370, 7450, 7550, 7680, 7760, 7840, 7920, 8000, 8080, 8180, 8380, 8460, 8540, 8620, 8700, 8780, 8860, 8945, 9075, 9160, 9235, 9340, 9420, 9500, 9580, 9660, 9740, 9820, 9900, 9960]
more_5971 = [60, 140, 220, 300, 380, 460, 540, 620, 700, 780, 860, 940, 1020, 1100, 1180, 1260, 1340, 1420, 1500, 1580, 1660, 1740, 1820, 1900, 1980, 2060, 2140, 2220, 2300, 2380, 2460, 2540, 2620, 2700, 2780, 2860, 2940, 3020, 3100, 3180, 3260, 3335, 3410, 3490, 3570, 3650, 3730, 3810, 3890, 3970, 4050, 4130, 4210, 4290, 4370, 4450, 4530, 4610, 4690, 4770, 4850, 4930, 5010, 5090, 5170, 5250, 5330, 5410, 5490, 5570, 5650, 5730, 5810, 5890, 5970, 6050, 6130, 6210, 6290, 6370, 6450, 6530, 6610, 6690, 6770, 6850, 6930, 7010, 7090, 7170, 7250, 7330, 7410, 7490, 7570, 7650, 7730, 7810, 7890, 7970, 8050, 8130, 8210, 8290, 8370, 8450, 8530, 8610, 8690, 8770, 8850, 8930, 9010, 9090, 9170, 9250, 9330, 9410, 9490, 9570, 9650, 9730, 9810, 9890, 9960]
more_5970 = [40, 120, 200, 295, 440, 520, 600, 680, 760, 845, 960, 1040, 1120, 1200, 1280, 1360, 1440, 1520, 1600, 1680, 1760, 1840, 1920, 2000, 2080, 2175, 2300, 2380, 2460, 2540, 2630, 2750, 2830, 2915, 3040, 3120, 3200, 3280, 3350, 3420, 3500, 3580, 3660, 3740, 3820, 3900, 3975, 4080, 4160, 4240, 4320, 4400, 4480, 4560, 4640, 4720, 4800, 4880, 4960, 5040, 5130, 5240, 5320, 5400, 5480, 5560, 5660, 5790, 5870, 5950, 6030, 6110, 6190, 6270, 6350, 6430, 6530, 6650, 6730, 6810, 6890, 6970, 7050, 7130, 7210, 7290, 7370, 7500, 7650, 7730, 7810, 7890, 7970, 8050, 8130, 8210, 8290, 8370, 8445, 8540, 8620, 8700, 8780, 8860, 8940, 9025, 9140, 9220, 9310, 9440, 9520, 9600, 9680, 9760, 9840, 9930]
more_5969 = [40, 120, 200, 280, 370, 490, 590, 730, 810, 890, 970, 1050, 1130, 1210, 1290, 1370, 1450, 1530, 1610, 1690, 1770, 1850, 1930, 2010, 2090, 2170, 2250, 2330, 2425, 2560, 2640, 2720, 2800, 2880, 2960, 3050, 3160, 3240, 3310, 3460, 3610, 3690, 3770, 3850, 3930, 4010, 4090, 4165, 4280, 4360, 4440, 4520, 4600, 4680, 4760, 4840, 4920, 5000, 5080, 5160, 5240, 5320, 5415, 5550, 5630, 5710, 5820, 5960, 6040, 6110, 6200, 6280, 6365, 6510, 6590, 6730, 6830, 6910, 6990, 7070, 7150, 7230, 7310, 7390, 7470, 7550, 7630, 7710, 7790, 7870, 7950, 8030, 8170, 8250, 8330, 8410, 8490, 8570, 8650, 8755, 8980, 9060, 9140, 9220, 9300, 9380, 9460, 9540, 9620, 9700, 9780, 9860, 9940]
more_5968 = [90, 170, 250, 330, 410, 490, 570, 650, 735, 850, 930, 1010, 1090, 1170, 1250, 1330, 1400, 1510, 1590, 1695, 1860, 1940, 2020, 2100, 2180, 2260, 2340, 2425, 2580, 2660, 2740, 2820, 2900, 2980, 3060, 3140, 3220, 3320, 3420, 3500, 3580, 3690, 3820, 3900, 3980, 4060, 4140, 4220, 4300, 4380, 4460, 4540, 4620, 4700, 4805, 5000, 5080, 5160, 5240, 5320, 5400, 5480, 5560, 5640, 5740, 5870, 5950, 6030, 6110, 6190, 6270, 6350, 6430, 6510, 6590, 6670, 6740, 6810, 6890, 6970, 7050, 7160, 7330, 7410, 7490, 7570, 7650, 7730, 7810, 7890, 7990, 8130, 8210, 8290, 8370, 8450, 8530, 8610, 8690, 8770, 8850, 8930, 9010, 9090, 9170, 9250, 9330, 9410, 9540, 9620, 9700, 9780, 9860, 9950]
more_5967 = [40, 120, 200, 290, 420, 500, 580, 660, 740, 820, 900, 980, 1060, 1140, 1220, 1300, 1380, 1460, 1540, 1620, 1700, 1780, 1860, 1940, 2020, 2100, 2180, 2260, 2340, 2420, 2500, 2580, 2660, 2740, 2820, 2900, 2980, 3060, 3140, 3220, 3320, 3420, 3500, 3580, 3720, 3840, 3920, 4015, 4130, 4210, 4290, 4380, 4530, 4610, 4690, 4770, 4850, 4930, 5010, 5090, 5170, 5250, 5330, 5410, 5490, 5570, 5650, 5730, 5810, 5890, 5970, 6050, 6130, 6210, 6290, 6370, 6450, 6530, 6610, 6710, 6810, 7010, 7090, 7170, 7250, 7330, 7410, 7490, 7570, 7650, 7730, 7820, 7940, 8020, 8100, 8180, 8280, 8410, 8490, 8570, 8650, 8730, 8810, 8890, 8970, 9050, 9130, 9210, 9290, 9370, 9450, 9530, 9610, 9690, 9770, 9850, 9940]
more_5966 = [50, 130, 210, 290, 370, 450, 530, 610, 690, 770, 850, 930, 1010, 1090, 1170, 1280, 1360, 1440, 1520, 1620, 1950, 2030, 2110, 2190, 2270, 2350, 2430, 2510, 2590, 2670, 2750, 2830, 2930, 3060, 3140, 3220, 3320, 3420, 3500, 3580, 3680, 3860, 3940, 4040, 4160, 4250, 4370, 4450, 4530, 4610, 4690, 4770, 4850, 4930, 5010, 5090, 5170, 5250, 5330, 5410, 5490, 5570, 5650, 5730, 5820, 6060, 6140, 6230, 6330, 6410, 6490, 6570, 6650, 6730, 6810, 6890, 6970, 7050, 7130, 7210, 7290, 7370, 7450, 7530, 7610, 7690, 7770, 7850, 7930, 8005, 8110, 8190, 8270, 8350, 8430, 8510, 8590, 8670, 8750, 8830, 8910, 8990, 9070, 9150, 9230, 9310, 9390, 9470, 9550, 9630, 9710, 9790, 9870, 9950]
more_5965 = [150, 230, 310, 390, 470, 550, 630, 710, 780, 1085, 1350, 1430, 1510, 1590, 1670, 1750, 1830, 2080, 2160, 2240, 2320, 2415, 2700, 2800, 2940, 3020, 3100, 3180, 3260, 3340, 3420, 3500, 3600, 3780, 3860, 3930, 4020, 4100, 4180, 4260, 4340, 4420, 4520, 4660, 4740, 4825, 5050, 5130, 5210, 5290, 5370, 5520, 5690, 5840, 5920, 6000, 6080, 6160, 6240, 6320, 6400, 6480, 6560, 6640, 6730, 6810, 6915, 7005, 7140, 7270, 7350, 7430, 7510, 7610, 7820, 7900, 7980, 8060, 8140, 8220, 8300, 8380, 8460, 8545, 8730, 8860, 8940, 9030, 9160, 9240, 9320, 9400, 9480, 9560, 9630, 9780, 9940]
more_5964 = [40, 120, 250, 330, 410, 490, 570, 650, 730, 810, 890, 970, 1050, 1130, 1230, 1360, 1440, 1520, 1600, 1680, 1760, 1840, 1920, 2000, 2080, 2160, 2240, 2320, 2400, 2480, 2565, 2690, 2770, 2850, 2930, 3010, 3090, 3175, 3420, 3520, 3750, 3830, 3910, 3990, 4070, 4150, 4235, 4400, 4490, 4570, 4650, 4755, 5070, 5150, 5230, 5310, 5390, 5500, 5590, 5750, 5830, 5910, 5990, 6070, 6150, 6230, 6315, 6440, 6520, 6600, 6700, 6810, 6910, 7050, 7130, 7210, 7290, 7370, 7450, 7530, 7625, 7900, 7980, 8060, 8140, 8220, 8300, 8380, 8460, 8540, 8620, 8730, 8870, 8950, 9030, 9110, 9200, 9330, 9410, 9490, 9580, 9840, 9930]
more_5963 = [130, 260, 340, 420, 500, 580, 670, 790, 870, 950, 1030, 1110, 1190, 1270, 1350, 1440, 1580, 1660, 1740, 1820, 1900, 2030, 2110, 2190, 2270, 2350, 2430, 2610, 2690, 2770, 2850, 2930, 3010, 3090, 3170, 3250, 3335, 3420, 3500, 3610, 3750, 3830, 3930, 4160, 4240, 4350, 4480, 4560, 4670, 4830, 4970, 5050, 5130, 5210, 5290, 5370, 5450, 5530, 5640, 5720, 5800, 5880, 5960, 6040, 6120, 6200, 6280, 6410, 6490, 6570, 6650, 6730, 6810, 6890, 7140, 7220, 7300, 7380, 7460, 7540, 7640, 7780, 7860, 7940, 8040, 8180, 8260, 8340, 8420, 8500, 8580, 8655, 8760, 8880, 8960, 9040, 9140, 9250, 9330, 9410, 9500, 9620, 9700, 9780, 9860, 9950]
more_5962 = [50, 150, 410, 510, 670, 750, 830, 910, 1020, 1200, 1280, 1360, 1440, 1510, 1700, 1780, 1860, 1950, 2225, 2300, 2420, 2500, 2590, 2705, 2810, 3000, 3110, 3210, 3430, 3620, 4125, 4210, 4290, 4380, 4510, 4590, 4670, 4750, 4850, 5070, 5150, 5230, 5310, 5390, 5470, 5570, 5700, 5780, 5860, 5935, 6040, 6120, 6200, 6280, 6360, 6440, 6520, 6640, 7120, 7210, 7320, 7450, 7530, 7610, 7690, 7775, 7990, 8070, 8190, 8270, 8350, 8430, 8510, 8730, 8830, 8945, 9060, 9220, 9400]
more_5961 = [40, 120, 200, 430, 520, 830, 910, 990, 1070, 1150, 1230, 1310, 1390, 1460, 1630, 1940, 2020, 2110, 2245, 2330, 2490, 2630, 2710, 2790, 2895, 3130, 3180, 3320, 3430, 3660, 3760, 4060, 4715, 4800, 4900, 5010, 5100, 5270, 5410, 5490, 5570, 5670, 5890, 6220, 6300, 6760, 6850, 7470, 8105, 8200, 8260, 8395, 8480, 8600, 8680, 8760, 8840, 8940, 9160, 9240, 9320, 9420, 9660, 9740, 9900]
more_5960 = [160, 305, 390, 470, 570, 770, 860, 1195, 1280, 1360, 1440, 1520, 1600, 1680, 1760, 1840, 1940, 2065, 2150, 2230, 2340, 2640, 2710, 2970, 3160, 3300, 3920, 4000, 4070, 4210, 4545, 4620, 4890, 4970, 5050, 5620, 5700, 5800, 6130, 6210, 6300, 6530, 6610, 6690, 6770, 6935, 7025, 7400, 7510, 7680, 7910, 7990, 8070, 8150, 8225, 8420, 8500, 8600, 9090, 9170, 9250, 9330, 9400, 9630]

rows = [
    (5993, level_5993), (5992, level_5992), (5991, level_5991), (5990, level_5990),
    (5989, level_5989), (5988, level_5988), (5987, level_5987), (5986, level_5986),
    (5985, level_5985), (5984, level_5984), (5983, level_5983), (5982, level_5982),
    (5981, level_5981), (5980, level_5980), (5979, level_5979 + more_5979),
    (5978, level_5978 + more_5978), (5977, level_5977 + more_5977),
    (5976, level_5976 + more_5976), (5975, level_5975 + more_5975),
    (5974, level_5974 + more_5974), (5973, level_5973 + more_5973),
    (5972, level_5972 + more_5972), (5971, level_5971 + more_5971),
    (5970, level_5970 + more_5970), (5969, level_5969 + more_5969),
    (5968, level_5968 + more_5968), (5967, level_5967 + more_5967),
    (5966, level_5966 + more_5966), (5965, level_5965 + more_5965),
    (5964, level_5964 + more_5964), (5963, level_5963 + more_5963),
    (5962, level_5962 + more_5962), (5961, level_5961 + more_5961),
    (5960, level_5960 + more_5960), (5959, level_5959), (5958, level_5958),
    (5957, level_5957), (5956, level_5956), (5955, level_5955), (5954, level_5954),
    (5953, level_5953), (5952, level_5952), (5951, level_5951), (5950, level_5950),
    (5949, level_5949),
]

samples = []
counts = []
for adc, positions in rows:
    samples.extend(positions)
    counts.extend([adc] * len(positions))

fig, ax = plt.subplots(figsize=(10, 10), dpi=100)
ax.plot(samples, counts, "k.", label=r"Samples\n$\mu$ = 5969.27, $\sigma$ = 6.2")
ax.set_title("Run 672, channel050, Pedestal")
ax.set_xlabel("Sample #")
ax.set_ylabel("ADC Counts")
ax.grid(True)
ax.legend(loc="upper right")
fig.subplots_adjust(left=0.081, right=0.985, top=0.965, bottom=0.059)
fig.savefig("out.png", dpi=100)
